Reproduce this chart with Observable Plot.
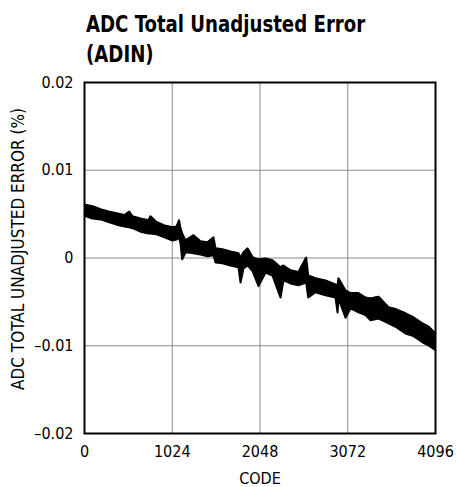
<!DOCTYPE html>
<html>
<head>
<meta charset="utf-8">
<script src="https://cdn.jsdelivr.net/npm/d3@7"></script>
<script src="https://cdn.jsdelivr.net/npm/@observablehq/plot@0.6"></script>
<style>
  html, body { margin: 0; padding: 0; background: #fff; }
  body { width: 456px; height: 487px; overflow: hidden; font-family: "DejaVu Sans Condensed", "Liberation Sans", sans-serif; }
  #title { height: 70px; box-sizing: border-box; padding: 9px 0 0 86px; }
  #title div { font-weight: bold; font-size: 23px; line-height: 30px; color: #000; transform: scaleX(0.877); transform-origin: 0 0; white-space: nowrap; }
</style>
</head>
<body>
<div id="title"><div>ADC Total Unadjusted Error<br>(ADIN)</div></div>
<div id="chart"></div>
<script>
// Envelope of the error trace (percent)
const codes = [0, 93, 187, 280, 373, 467, 522, 560, 653, 747, 770, 840, 934, 1027, 1074, 1103, 1120, 1140, 1179, 1272, 1354, 1435, 1505, 1529, 1610, 1704, 1797, 1821, 1855, 1902, 1961, 2031, 2112, 2194, 2287, 2322, 2404, 2497, 2587, 2611, 2696, 2812, 2929, 2953, 2964, 3046, 3104, 3198, 3279, 3338, 3431, 3548, 3641, 3746, 3839, 3944, 4014, 4096];
const errHigh = [0.0061, 0.0059, 0.00555, 0.0053, 0.0051, 0.0049, 0.0053, 0.00475, 0.0045, 0.0043, 0.00475, 0.0041, 0.0037, 0.0035, 0.0036, 0.0043, 0.0034, 0.0028, 0.0020, 0.0026, 0.0019, 0.0018, 0.00235, 0.0011, 0.0010, 0.00075, 0.00055, 0.0000, 0.00065, 0.0011, 0.0001, -0.00015, -0.00005, -0.00025, -0.00105, -0.00085, -0.0014, -0.0016, 0.00005, -0.0020, -0.0023, -0.00255, -0.0030, -0.0032, -0.0023, -0.0037, -0.0040, -0.0040, -0.0045, -0.0046, -0.0044, -0.0056, -0.00585, -0.0063, -0.00675, -0.00745, -0.0078, -0.0086];
const errLow = [0.0048, 0.0045, 0.0044, 0.0041, 0.0038, 0.0036, 0.0035, 0.0034, 0.0030, 0.0028, 0.0028, 0.0027, 0.00235, 0.0020, 0.0021, 0.00235, 0.0017, -0.00015, 0.00065, 0.00055, 0.0004, 0.0002, 0.0003, -0.0005, -0.0006, -0.00085, -0.00105, -0.0028, -0.0012, -0.00085, -0.0015, -0.0032, -0.00165, -0.0020, -0.0045, -0.00255, -0.0029, -0.0031, -0.0028, -0.0045, -0.0039, -0.00425, -0.0045, -0.0062, -0.0046, -0.0068, -0.00575, -0.0062, -0.0065, -0.0071, -0.0069, -0.00745, -0.0079, -0.0086, -0.0089, -0.0096, -0.00995, -0.0105];

const xTicks = [0, 1024, 2048, 3072, 4096];
const xTickLabels = ["0", "1024", "2048", "3072", "4096"];
const yTicks = [0.02, 0.01, 0, -0.01, -0.02];
const yTickLabels = ["0.02", "0.01", "0", "–0.01", "–0.02"];
const yLabel = "ADC TOTAL UNADJUSTED ERROR (%)";

const data = codes.map((c, i) => ({code: c, hi: errHigh[i], lo: errLow[i]}));

const fontFam = '"DejaVu Sans Condensed", "Liberation Sans", sans-serif';

const chart = Plot.plot({
  width: 456,
  height: 417,
  marginTop: 12,
  marginBottom: 54,
  marginLeft: 84,
  marginRight: 21,
  style: {fontFamily: fontFam, fontSize: "16px", color: "#000", background: "#fff", overflow: "visible"},
  x: {domain: [0, 4096]},
  y: {domain: [-0.02, 0.02]},
  marks: [
    Plot.gridX(xTicks, {stroke: "#8a8a8a", strokeOpacity: 1, strokeWidth: 1}),
    Plot.gridY(yTicks, {stroke: "#8a8a8a", strokeOpacity: 1, strokeWidth: 1}),
    Plot.areaY(data, {x: "code", y1: "lo", y2: "hi", fill: "#000"}),
    Plot.line(data, {x: "code", y: "hi", stroke: "#000", strokeWidth: 2}),
    Plot.line(data, {x: "code", y: "lo", stroke: "#000", strokeWidth: 2}),
    Plot.frame({stroke: "#000", strokeWidth: 2}),
    Plot.axisX(xTicks, {tickSize: 0, tickPadding: 12, fontSize: 16, tickFormat: (d, i) => xTickLabels[i], label: "CODE", labelAnchor: "center", labelArrow: "none", labelOffset: 50}),
    Plot.axisY(yTicks, {tickSize: 0, tickPadding: 11, fontSize: 16, tickFormat: (d, i) => yTickLabels[i], label: null}),
    Plot.text([yLabel], {frameAnchor: "left", text: d => d, rotate: -90, dx: -66, dy: -9, fontSize: 17, textAnchor: "middle", lineAnchor: "middle", fill: "#000"})
  ]
});
document.getElementById("chart").appendChild(chart);
</script>
</body>
</html>
